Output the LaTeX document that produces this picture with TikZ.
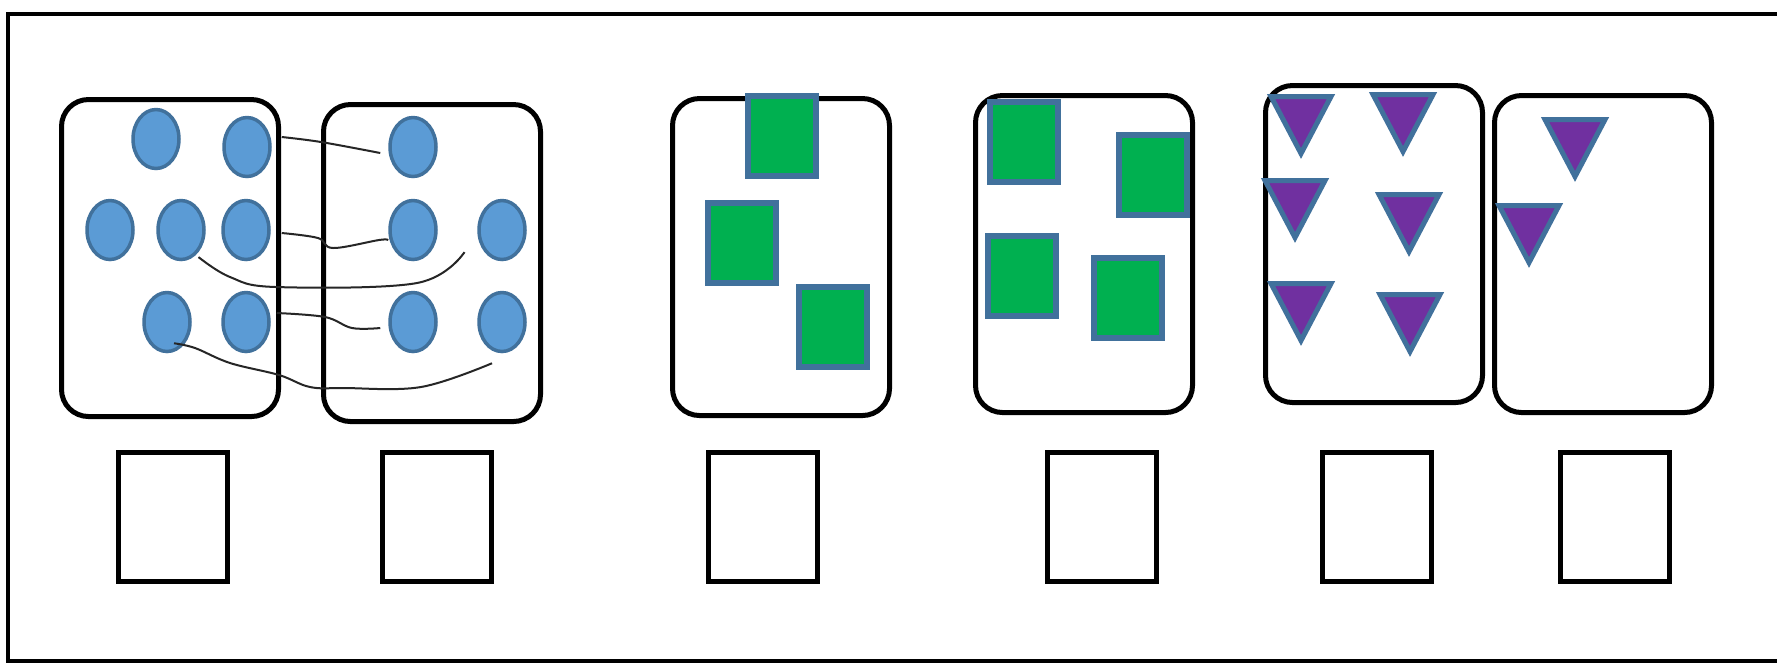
\documentclass[tikz,border=0pt]{standalone}
\usepackage{tikz}
\usetikzlibrary{shapes.geometric, positioning}
\definecolor{dotBlue}{RGB}{91, 155, 213}
\definecolor{edgeBlue}{RGB}{65, 113, 156}
\definecolor{countGreen}{RGB}{0, 176, 80}
\definecolor{countPurple}{RGB}{112, 48, 160}

\begin{document}
\begin{tikzpicture}[
    x=0.1mm, y=-0.1mm,
    page_frame/.style={line width=0.45mm, black},
    card/.style={draw, line width=0.5mm, rounded corners=2.7mm, minimum width=21.7mm, minimum height=31.7mm, inner sep=0pt},
    answer_box/.style={draw, line width=0.45mm, minimum width=10.9mm, minimum height=12.9mm, inner sep=0pt},
    counter_dot/.style={ellipse, draw=edgeBlue, fill=dotBlue, line width=0.35mm, minimum width=4.6mm, minimum height=5.9mm, inner sep=0pt},
    block/.style={rectangle, draw=edgeBlue, fill=countGreen, line width=0.55mm, minimum width=6.8mm, minimum height=8mm, inner sep=0pt},
    wedge/.style={draw=edgeBlue, fill=countPurple, line width=0.5mm},
    pairing/.style={line width=0.2mm, black!85}
]
    % Page and outer frame (open on the right)
    \useasboundingbox (0,0) rectangle (1777,665);
    \fill[white] (0,0) rectangle (1777,665);
    \clip (0,0) rectangle (1777,665);
    \draw[page_frame] (1800,14) -- (8,14) -- (8,661) -- (1800,661);

    % Counting cards
    \node[card] (dotsL) at (170,258) {};
    \node[card] (dotsR) at (432,263) {};
    \node[card] (blocksL) at (781,257) {};
    \node[card] (blocksR) at (1084,254) {};
    \node[card] (wedgesL) at (1374,244) {};
    \node[card] (wedgesR) at (1603,254) {};

    % Answer boxes
    \node[answer_box] (ans1) at (173,517) {};
    \node[answer_box] (ans2) at (437,517) {};
    \node[answer_box] (ans3) at (763,517) {};
    \node[answer_box] (ans4) at (1102,517) {};
    \node[answer_box] (ans5) at (1377,517) {};
    \node[answer_box] (ans6) at (1615,517) {};

    % Dots, left card
    \node[counter_dot] (a1) at (156,139) {};
    \node[counter_dot] (a2) at (247,147) {};
    \node[counter_dot] (a3) at (110,230) {};
    \node[counter_dot] (a4) at (181,230) {};
    \node[counter_dot] (a5) at (246,230) {};
    \node[counter_dot] (a6) at (167,322) {};
    \node[counter_dot] (a7) at (246,322) {};

    % Dots, right card
    \node[counter_dot] (b1) at (413,147) {};
    \node[counter_dot] (b2) at (413,230) {};
    \node[counter_dot] (b3) at (502,230) {};
    \node[counter_dot] (b4) at (413,322) {};
    \node[counter_dot] (b5) at (502,322) {};

    % Matching lines between the two dot cards
    \coordinate (l1s) at ([xshift=1mm,yshift=1mm]a2.east);
    \coordinate (l1e) at ([xshift=-0.8mm,yshift=-0.6mm]b1.west);
    \coordinate (l2s) at ([xshift=1.1mm,yshift=-0.3mm]a5.east);
    \coordinate (l2e) at ([yshift=-1mm]b2.west);
    \coordinate (l3s) at ([yshift=-0.5mm]a4.south east);
    \coordinate (l3e) at ([xshift=-2mm]b3.south west);
    \coordinate (l4s) at ([xshift=0.6mm,yshift=0.9mm]a7.east);
    \coordinate (l4e) at ([xshift=-0.8mm,yshift=-0.6mm]b4.west);
    \coordinate (l5s) at ([xshift=0.7mm,yshift=1mm]a6.south);
    \coordinate (l5e) at ([xshift=-1mm,yshift=-1mm]b5.south);

    \draw[pairing] plot[smooth, tension=0.6] coordinates {(l1s) (321,142) (l1e)};
    \draw[pairing] plot[smooth, tension=0.6] coordinates {(l2s) (318,238) (333,248) (379,240) (l2e)};
    \draw[pairing] plot[smooth, tension=0.6] coordinates {(l3s) (230,277) (276,287) (417,283) (l3e)};
    \draw[pairing] plot[smooth, tension=0.6] coordinates {(l4s) (325,317) (352,328) (l4e)};
    \draw[pairing] plot[smooth, tension=0.6] coordinates {(l5s) (195,348) (230,363) (279,375) (310,387) (344,388) (421,387) (l5e)};

    % Green blocks
    \node[block] (s1) at (782,136) {};
    \node[block] (s2) at (742,243) {};
    \node[block] (s3) at (833,327) {};
    \node[block] (s4) at (1024,142) {};
    \node[block] (s5) at (1153,175) {};
    \node[block] (s6) at (1022,276) {};
    \node[block] (s7) at (1128,298) {};

    % Purple wedges (centre of top edge)
    \foreach \cx/\ty in {1301/94, 1403/92, 1295/178, 1409/192, 1301/281, 1410/292, 1575/117, 1529/203}
        \draw[wedge] (\cx-30,\ty+2.5) -- (\cx+30,\ty+2.5) -- (\cx,\ty+59.5) -- cycle;
\end{tikzpicture}
\end{document}
